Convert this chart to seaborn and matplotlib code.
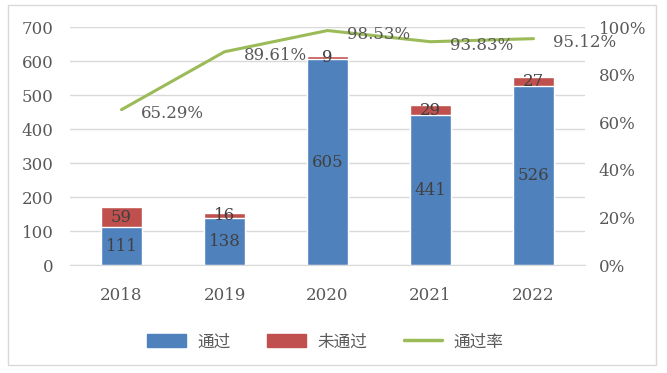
import numpy as np
import pandas as pd
import matplotlib
matplotlib.use('Agg')
import matplotlib.pyplot as plt
import seaborn as sb
from matplotlib.patches import Rectangle
from matplotlib.lines import Line2D

years = ['2018', '2019', '2020', '2021', '2022']
passed = [111, 138, 605, 441, 526]
failed = [59, 16, 9, 29, 27]
rate = [65.29, 89.61, 98.53, 93.83, 95.12]

blue = '#4F81BD'
red = '#C0504D'
green = '#9BBB59'
grey = '#595959'

sb.set_style('white')
plt.rcParams['font.family'] = ['DejaVu Serif', 'Noto Sans CJK SC']

df = pd.DataFrame({'year': years, 'passed': passed, 'failed': failed, 'rate': rate})
df['total'] = df['passed'] + df['failed']

fig = plt.figure(figsize=(6.67, 3.73), dpi=100)
ax = fig.add_axes([0.105, 0.2895, 0.772, 0.638])

# stacked bars: total in red, passed in blue on top
sb.barplot(data=df, x='year', y='total', color=red, width=0.4, saturation=1, ax=ax)
sb.barplot(data=df, x='year', y='passed', color=blue, width=0.4, saturation=1, ax=ax)

fs = 12
ax.set_ylim(0, 700)
ax.set_xlim(-0.5, 4.5)
ax.set_yticks(range(0, 701, 100))
ax.yaxis.grid(True, color='#D9D9D9', linewidth=1)
ax.set_axisbelow(True)
for s in ax.spines.values():
    s.set_visible(False)
ax.spines['bottom'].set_visible(True)
ax.spines['bottom'].set_color('#D9D9D9')
ax.set_xlabel('')
ax.set_ylabel('')
ax.tick_params(axis='both', length=0, labelsize=fs, labelcolor=grey)
ax.tick_params(axis='x', pad=16)
ax.tick_params(axis='y', pad=12)

# bar labels
for i in range(len(years)):
    ax.text(i, passed[i] / 2, str(passed[i]), ha='center', va='center', fontsize=fs, color='#404040')
    ax.text(i, passed[i] + failed[i] / 2, str(failed[i]), ha='center', va='center', fontsize=fs, color='#404040')

# pass rate line on the right axis
ax2 = ax.twinx()
sb.lineplot(x=np.arange(len(years)), y=df['rate'] / 100, color=green, linewidth=2.2, ax=ax2)
ax2.set_ylim(0, 1)
ax2.set_yticks(np.arange(0, 1.01, 0.2))
ax2.set_yticklabels(['%d%%' % v for v in range(0, 101, 20)])
for s in ax2.spines.values():
    s.set_visible(False)
ax2.tick_params(axis='y', length=0, labelsize=fs, labelcolor=grey, pad=10)
ax2.set_ylabel('')
for i in range(len(years)):
    ax2.annotate('%.2f%%' % rate[i], (i, rate[i] / 100), xytext=(14, -3), textcoords='offset points',
                 ha='left', va='center', fontsize=fs, color=grey)

# legend
handles = [Rectangle((0, 0), 1, 1, color=blue), Rectangle((0, 0), 1, 1, color=red),
           Line2D([0], [0], color=green, linewidth=2.5)]
fig.legend(handles, ['通过', '未通过', '通过率'], loc='center', bbox_to_anchor=(0.488, 0.083),
           ncol=3, frameon=False, handlelength=2.3, handleheight=0.8, handletextpad=0.7,
           columnspacing=2.2, prop={'family': 'Noto Sans CJK SC', 'size': 12}, labelcolor=grey)

# outer border
fig.patches.append(Rectangle((0.012, 0.021), 0.972, 0.965, transform=fig.transFigure,
                             fill=False, edgecolor='#D9D9D9', linewidth=1))

plt.savefig('out.png', dpi=100)
